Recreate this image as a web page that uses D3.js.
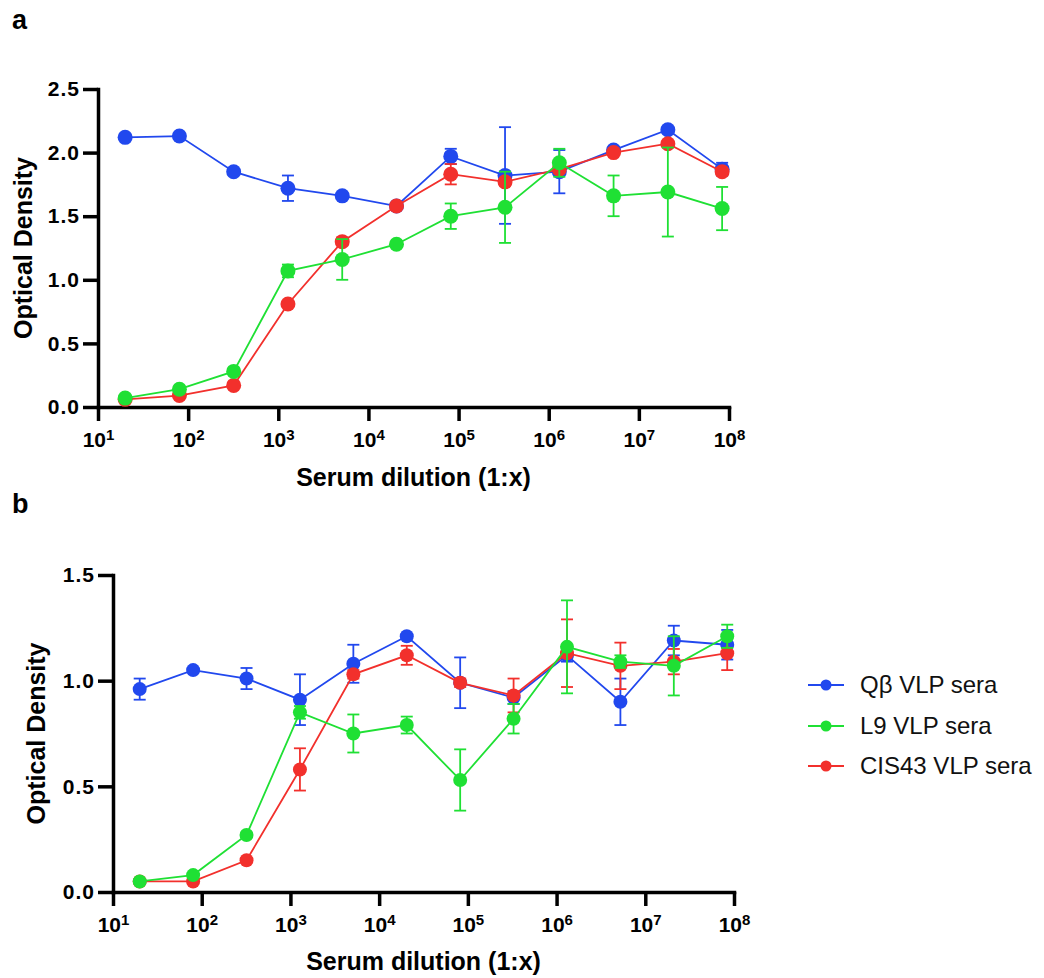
<!DOCTYPE html>
<html>
<head>
<meta charset="utf-8">
<script src="https://cdn.jsdelivr.net/npm/d3@7"></script>
<style>
  body { margin: 0; background: #fff; }
  svg { font-family: "Liberation Sans", Arial, Helvetica, sans-serif; }
</style>
</head>
<body>
<div id="chart"></div>
<script>
// Serum dilutions (1:x), 4-fold series starting at 1:20
const dilutions = [20, 80, 320, 1280, 5120, 20480, 81920, 327680, 1310720, 5242880, 20971520, 83886080];
const xTicks = [1e1, 1e2, 1e3, 1e4, 1e5, 1e6, 1e7, 1e8];

const seriesNames = ["Qβ VLP sera", "L9 VLP sera", "CIS43 VLP sera"];
const seriesColors = ["#2148ee", "#1fe034", "#f2302c"];

// Panel a
const aQb      = [2.12, 2.13, 1.85, 1.72, 1.66, 1.58, 1.97, 1.82, 1.85, 2.02, 2.18, 1.87];
const aQbErr   = [0.01, 0.01, 0.02, 0.10, 0.02, 0.01, 0.06, 0.38, 0.17, 0.02, 0.02, 0.05];
const aL9      = [0.07, 0.14, 0.28, 1.07, 1.16, 1.28, 1.50, 1.57, 1.92, 1.66, 1.69, 1.56];
const aL9Err   = [0.01, 0.01, 0.02, 0.05, 0.16, 0.01, 0.10, 0.28, 0.11, 0.16, 0.35, 0.17];
const aCis     = [0.06, 0.09, 0.17, 0.81, 1.30, 1.58, 1.83, 1.77, 1.87, 2.00, 2.07, 1.85];
const aCisErr  = [0.01, 0.01, 0.01, 0.01, 0.03, 0.01, 0.08, 0.03, 0.03, 0.02, 0.02, 0.03];
const aYTicks  = [0, 0.5, 1.0, 1.5, 2.0, 2.5];

// Panel b
const bQb      = [0.96, 1.05, 1.01, 0.91, 1.08, 1.21, 0.99, 0.92, 1.12, 0.90, 1.19, 1.17];
const bQbErr   = [0.05, 0.01, 0.05, 0.12, 0.09, 0.01, 0.12, 0.03, 0.03, 0.11, 0.07, 0.07];
const bL9      = [0.05, 0.08, 0.27, 0.85, 0.75, 0.79, 0.53, 0.82, 1.16, 1.09, 1.07, 1.21];
const bL9Err   = [0.01, 0.01, 0.01, 0.03, 0.09, 0.04, 0.145, 0.07, 0.22, 0.03, 0.14, 0.055];
const bCis     = [0.05, 0.05, 0.15, 0.58, 1.03, 1.12, 0.99, 0.93, 1.13, 1.07, 1.09, 1.13];
const bCisErr  = [0.01, 0.01, 0.01, 0.10, 0.02, 0.045, 0.02, 0.08, 0.16, 0.11, 0.06, 0.08];
const bYTicks  = [0, 0.5, 1.0, 1.5];

const svg = d3.select("#chart").append("svg")
  .attr("width", 1044)
  .attr("height", 978);

function drawPanel(cfg) {
  const x = d3.scaleLog().domain([10, 1e8]).range([cfg.left, cfg.right]);
  const y = d3.scaleLinear().domain([0, cfg.yMax]).range([cfg.bottom, cfg.top]);

  const g = svg.append("g");

  // Panel letter
  g.append("text")
    .attr("x", 12)
    .attr("y", cfg.letterY)
    .attr("font-size", 27)
    .attr("font-weight", "bold")
    .text(cfg.letter);

  // Y axis
  const yAxis = g.append("g")
    .attr("transform", `translate(${cfg.left},0)`)
    .call(d3.axisLeft(y).tickValues(cfg.yTicks).tickFormat(d3.format(".1f"))
      .tickSize(15).tickSizeOuter(0).tickPadding(3));

  // X axis
  const xAxis = g.append("g")
    .attr("transform", `translate(0,${cfg.bottom})`)
    .call(d3.axisBottom(x).tickValues(xTicks).tickFormat(() => "")
      .tickSize(14).tickSizeOuter(0).tickPadding(11));

  for (const ax of [yAxis, xAxis]) {
    ax.attr("font-family", null).attr("font-size", 21).attr("font-weight", "bold");
    ax.selectAll("path, line").attr("stroke", "#000").attr("stroke-width", 3.5);
    ax.select(".domain").attr("stroke-linecap", "square");
  }
  yAxis.selectAll(".tick text").attr("letter-spacing", 1).attr("fill", "#000");

  // Powers of ten with superscript exponent
  xAxis.selectAll(".tick text")
    .attr("fill", "#000")
    .each(function(d) {
      const t = d3.select(this);
      t.append("tspan").text("10");
      t.append("tspan")
        .attr("dy", "-0.45em")
        .attr("font-size", 15)
        .text(Math.round(Math.log10(d)));
    });

  // Axis titles
  g.append("text")
    .attr("transform", `translate(${cfg.yTitleX},${(cfg.top + cfg.bottom) / 2}) rotate(-90)`)
    .attr("text-anchor", "middle")
    .attr("font-size", 25)
    .attr("font-weight", "bold")
    .text("Optical Density");

  g.append("text")
    .attr("x", (cfg.left + cfg.right) / 2)
    .attr("y", cfg.xTitleY)
    .attr("text-anchor", "middle")
    .attr("font-size", 25)
    .attr("font-weight", "bold")
    .text("Serum dilution (1:x)");

  // Series: blue first, then red, then green on top
  const order = [0, 2, 1];
  const line = d3.line()
    .x(d => x(d.dil))
    .y(d => y(d.v));

  for (const i of order) {
    const values = cfg.series[i];
    const errs = cfg.errors[i];
    const color = seriesColors[i];
    const data = dilutions.map((dil, k) => ({dil: dil, v: values[k], e: errs[k]}));
    const s = g.append("g");

    s.append("path")
      .datum(data)
      .attr("d", line)
      .attr("fill", "none")
      .attr("stroke", color)
      .attr("stroke-width", 1.8);

    // Error bars with caps
    const eb = s.selectAll(".err")
      .data(data)
      .join("g")
      .attr("stroke", color)
      .attr("stroke-width", 1.8);
    eb.append("line")
      .attr("x1", d => x(d.dil)).attr("x2", d => x(d.dil))
      .attr("y1", d => y(d.v - d.e)).attr("y2", d => y(d.v + d.e));
    eb.append("line")
      .attr("x1", d => x(d.dil) - 6).attr("x2", d => x(d.dil) + 6)
      .attr("y1", d => y(d.v + d.e)).attr("y2", d => y(d.v + d.e));
    eb.append("line")
      .attr("x1", d => x(d.dil) - 6).attr("x2", d => x(d.dil) + 6)
      .attr("y1", d => y(d.v - d.e)).attr("y2", d => y(d.v - d.e));

    s.selectAll("circle")
      .data(data)
      .join("circle")
      .attr("cx", d => x(d.dil))
      .attr("cy", d => y(d.v))
      .attr("r", cfg.r)
      .attr("fill", color);
  }
}

drawPanel({
  letter: "a", letterY: 29,
  left: 98, right: 729, top: 89, bottom: 407,
  yMax: 2.5, yTicks: aYTicks,
  yTitleX: 32, xTitleY: 486, r: 7.5,
  series: [aQb, aL9, aCis],
  errors: [aQbErr, aL9Err, aCisErr]
});

drawPanel({
  letter: "b", letterY: 513,
  left: 113, right: 734, top: 575, bottom: 892,
  yMax: 1.5, yTicks: bYTicks,
  yTitleX: 45, xTitleY: 970, r: 7,
  series: [bQb, bL9, bCis],
  errors: [bQbErr, bL9Err, bCisErr]
});

// Legend
const legendY = [685, 726, 766];
const legend = svg.append("g");
seriesNames.forEach((name, i) => {
  const row = legend.append("g").attr("transform", `translate(0,${legendY[i]})`);
  row.append("line")
    .attr("x1", 808).attr("x2", 844)
    .attr("stroke", seriesColors[i])
    .attr("stroke-width", 1.8);
  row.append("circle")
    .attr("cx", 826).attr("r", 5.5)
    .attr("fill", seriesColors[i]);
  row.append("text")
    .attr("x", 860).attr("y", 8)
    .attr("font-size", 24)
    .attr("fill", "#111")
    .text(name);
});
</script>
</body>
</html>
